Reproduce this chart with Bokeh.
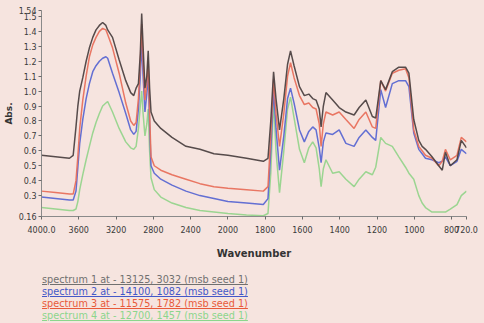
import numpy as np
from bokeh.plotting import figure
from bokeh.models import Range1d, FixedTicker, ColumnDataSource, Div
from bokeh.layouts import column
from bokeh.embed import file_html
from bokeh.resources import INLINE

# ---------------- data ----------------
wn = [4000, 3850, 3700, 3660, 3630, 3610, 3590, 3557, 3521, 3486,
      3450, 3415, 3379, 3344, 3309, 3290, 3238, 3167, 3096, 3043,
      3010, 2985, 2960, 2940, 2925, 2910, 2890, 2870, 2855, 2840,
      2825, 2790, 2720, 2600, 2450, 2300, 2150, 2000, 1900, 1810,
      1785, 1770, 1755, 1742, 1723, 1700, 1680, 1664, 1645, 1616,
      1590, 1566, 1545, 1527, 1510, 1500, 1488, 1474, 1438, 1403,
      1367, 1323, 1296, 1260, 1225, 1207, 1180, 1154, 1118, 1083,
      1047, 1029, 1003, 976, 958, 940, 905, 869, 850, 833,
      807, 771, 748, 720]

spectrum1 = [0.57, 0.56, 0.55, 0.57, 0.76, 0.90, 1.00, 1.09, 1.20, 1.29,
             1.36, 1.41, 1.44, 1.46, 1.44, 1.41, 1.36, 1.21, 1.07, 0.99,
             0.97, 1.02, 1.05, 1.25, 1.52, 1.30, 1.02, 1.10, 1.27, 1.02,
             0.86, 0.80, 0.75, 0.69, 0.63, 0.61, 0.58, 0.57, 0.55, 0.53,
             0.55, 0.80, 1.13, 0.95, 0.74, 0.95, 1.18, 1.27, 1.17, 1.03,
             0.97, 0.98, 0.95, 0.94, 0.88, 0.76, 0.90, 0.99, 0.94, 0.89,
             0.86, 0.84, 0.89, 0.94, 0.83, 0.82, 1.07, 1.01, 1.13, 1.16,
             1.16, 1.12, 0.81, 0.67, 0.63, 0.61, 0.56, 0.50, 0.47, 0.59,
             0.50, 0.54, 0.67, 0.62]

spectrum2 = [0.29, 0.28, 0.27, 0.27, 0.33, 0.49, 0.65, 0.81, 0.95, 1.05,
             1.13, 1.17, 1.20, 1.22, 1.23, 1.22, 1.12, 0.99, 0.85, 0.74,
             0.71, 0.73, 0.88, 1.10, 1.33, 1.10, 0.86, 0.98, 1.12, 0.78,
             0.50, 0.45, 0.41, 0.37, 0.33, 0.30, 0.28, 0.26, 0.25, 0.24,
             0.28, 0.60, 1.01, 0.75, 0.47, 0.70, 0.95, 1.02, 0.92, 0.74,
             0.66, 0.73, 0.76, 0.74, 0.62, 0.52, 0.66, 0.72, 0.71, 0.74,
             0.65, 0.63, 0.69, 0.74, 0.69, 0.67, 1.01, 0.89, 1.05, 1.07,
             1.07, 1.03, 0.72, 0.61, 0.58, 0.55, 0.54, 0.52, 0.53, 0.56,
             0.50, 0.53, 0.61, 0.58]

spectrum3 = [0.33, 0.32, 0.31, 0.31, 0.40, 0.56, 0.75, 0.94, 1.10, 1.23,
             1.31, 1.36, 1.40, 1.42, 1.41, 1.38, 1.29, 1.12, 0.92, 0.80,
             0.77, 0.79, 0.95, 1.20, 1.45, 1.20, 0.94, 1.05, 1.20, 0.85,
             0.56, 0.50, 0.47, 0.44, 0.41, 0.38, 0.36, 0.35, 0.34, 0.33,
             0.36, 0.70, 1.08, 0.85, 0.63, 0.85, 1.10, 1.19, 1.09, 0.97,
             0.91, 0.92, 0.89, 0.88, 0.78, 0.63, 0.78, 0.86, 0.84, 0.86,
             0.81, 0.75, 0.81, 0.86, 0.76, 0.75, 1.07, 1.00, 1.12, 1.14,
             1.15, 1.09, 0.74, 0.63, 0.60, 0.57, 0.55, 0.50, 0.53, 0.61,
             0.54, 0.57, 0.69, 0.66]

spectrum4 = [0.22, 0.21, 0.20, 0.20, 0.21, 0.26, 0.34, 0.44, 0.54, 0.63,
             0.72, 0.79, 0.85, 0.90, 0.92, 0.93, 0.86, 0.75, 0.66, 0.62,
             0.61, 0.63, 0.75, 0.90, 1.00, 0.85, 0.70, 0.78, 0.88, 0.60,
             0.42, 0.34, 0.29, 0.25, 0.22, 0.20, 0.19, 0.18, 0.17, 0.165,
             0.18, 0.45, 0.94, 0.60, 0.32, 0.60, 0.88, 0.96, 0.82, 0.61,
             0.52, 0.62, 0.66, 0.62, 0.48, 0.36, 0.48, 0.54, 0.45, 0.46,
             0.41, 0.36, 0.41, 0.46, 0.44, 0.49, 0.69, 0.65, 0.63, 0.56,
             0.49, 0.45, 0.41, 0.30, 0.25, 0.22, 0.19, 0.19, 0.19, 0.19,
             0.21, 0.24, 0.30, 0.33]

x_ticks = [4000, 3600, 3200, 2800, 2400, 2000, 1800, 1600, 1400, 1200, 1000, 800, 720]
x_tick_labels = ["4000.0", "3600", "3200", "2800", "2400", "2000", "1800",
                 "1600", "1400", "1200", "1000", "800", "720.0"]
y_ticks = [0.16, 0.3, 0.4, 0.5, 0.6, 0.7, 0.8, 0.9, 1.0, 1.1, 1.2, 1.3, 1.4, 1.5, 1.54]
y_tick_labels = ["0.16", "0.3", "0.4", "0.5", "0.6", "0.7", "0.8", "0.9", "1.0",
                 "1.1", "1.2", "1.3", "1.4", "1.5", "1.54"]

legend_labels = ["spectrum 1 at - 13125, 3032 (msb seed 1)",
                 "spectrum 2 at - 14100, 1082 (msb seed 1)",
                 "spectrum 3 at - 11575, 1782 (msb seed 1)",
                 "spectrum 4 at - 12700, 1457 (msb seed 1)"]

BG = "#f6e4df"
line_colors = ["#4d4242", "#5b68d2", "#e8705c", "#96d48c"]
legend_colors = ["#707070", "#4458c8", "#e85a3a", "#8cd68c"]


def axis_scale(w):
    """IR-style split scale: below 2000 cm-1 the axis is expanded 2x."""
    w = np.asarray(w, dtype=float)
    return np.where(w >= 2000, 4000 - w, 2000 + 2 * (2000 - w))


x_max = float(axis_scale([720])[0])

W, H, HL = 484, 262, 61
p = figure(width=W, height=H, x_range=Range1d(0, x_max), y_range=Range1d(0.16, 1.54),
           output_backend="svg", toolbar_location=None,
           min_border_left=41, min_border_right=18, min_border_top=10, min_border_bottom=46,
           background_fill_color=BG, border_fill_color=BG, outline_line_color=None)
p.xgrid.visible = False
p.ygrid.visible = False

series = [spectrum4, spectrum2, spectrum3, spectrum1]
cols = [line_colors[3], line_colors[1], line_colors[2], line_colors[0]]
xs = axis_scale(wn)
for s, c in zip(series, cols):
    src = ColumnDataSource(dict(x=xs, y=s))
    p.line("x", "y", source=src, line_color=c, line_width=1.5, line_alpha=0.95)

tick_pos = [float(v) for v in axis_scale(x_ticks)]
p.xaxis.ticker = FixedTicker(ticks=tick_pos)
p.xaxis.major_label_overrides = {tp: lab for tp, lab in zip(tick_pos, x_tick_labels)}
p.yaxis.ticker = FixedTicker(ticks=y_ticks)
p.yaxis.major_label_overrides = {t: lab for t, lab in zip(y_ticks, y_tick_labels)}

for ax in (p.xaxis[0], p.yaxis[0]):
    ax.axis_line_color = "#8a8a8a"
    ax.major_tick_line_color = "#6a6a6a"
    ax.major_tick_out = 3
    ax.major_tick_in = 0
    ax.minor_tick_line_color = None
    ax.major_label_text_font = "DejaVu Sans"
    ax.major_label_text_font_size = "8px"
    ax.major_label_text_color = "#3a3a3a"
    ax.axis_label_text_font = "DejaVu Sans"
    ax.axis_label_text_font_style = "bold"
    ax.axis_label_text_color = "#333333"

p.xaxis.major_label_standoff = 6
p.xaxis.axis_label = "Wavenumber"
p.xaxis.axis_label_text_font_size = "10px"
p.xaxis.axis_label_standoff = 12
p.yaxis.axis_label = "Abs."
p.yaxis.axis_label_text_font_size = "9px"
p.yaxis.axis_label_standoff = 2
p.yaxis.major_label_standoff = 2

# ---------------- legend (HTML block under the plot) ----------------
rows = "".join(
    '<div style="color:%s;text-decoration:underline;white-space:nowrap;">%s</div>' % (c, t)
    for t, c in zip(legend_labels, legend_colors))
legend_html = ('<div style="padding:12px 0 0 42px;font-family:\'DejaVu Sans\';'
               'font-size:9.7px;line-height:12px;">%s</div>' % rows)
legend = Div(text=legend_html, width=W, height=HL,
             styles={"background-color": BG, "overflow": "hidden", "margin": "0"})

layout = column(p, legend, spacing=0)
html = file_html(layout, INLINE)
style = "<style>html, body { background: %s; }</style>" % BG
html = html.replace("</head>", style + "</head>", 1)
open("out.html", "w").write(html)
